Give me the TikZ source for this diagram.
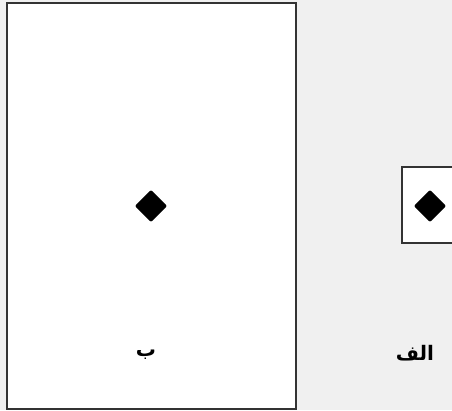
\documentclass[tikz,border=0pt]{standalone}
\usepackage{fontspec}
\usetikzlibrary{shapes.geometric}
\TeXXeTstate=1
\newfontfamily\arabicfont[Script=Arabic]{DejaVu Sans}
\definecolor{bggray}{HTML}{F0F0F0}
\definecolor{edgegray}{HTML}{333333}
\tikzset{
  panel/.style={draw=edgegray, line width=1.3pt, fill=white, inner sep=0pt},
  marker/.style={diamond, fill=black, inner sep=0pt, minimum width=24.5pt, minimum height=24.5pt, rounded corners=1.5pt},
  caption/.style={font=\arabicfont\bfseries\fontsize{15}{18}\selectfont, inner sep=0pt}
}
\begin{document}
\begin{tikzpicture}[x=0.75pt,y=-0.75pt]
\useasboundingbox[fill=bggray] (0,0) rectangle (452,410);
\clip (0,0) rectangle (452,410);
\node[panel, minimum width=216.75pt, minimum height=304.5pt] (bigbox) at (151.5,206) {};
\node[panel, minimum width=42pt, minimum height=57pt] (smallbox) at (430,205) {};
\node[marker] (bigmark) at (151,206) {};
\node[marker] (smallmark) at (430,206) {};
\node[caption] (blabel) at (146,355) {\beginR ب\endR};
\node[caption] (alabel) at (415,353) {\beginR الف\endR};
\end{tikzpicture}
\end{document}
